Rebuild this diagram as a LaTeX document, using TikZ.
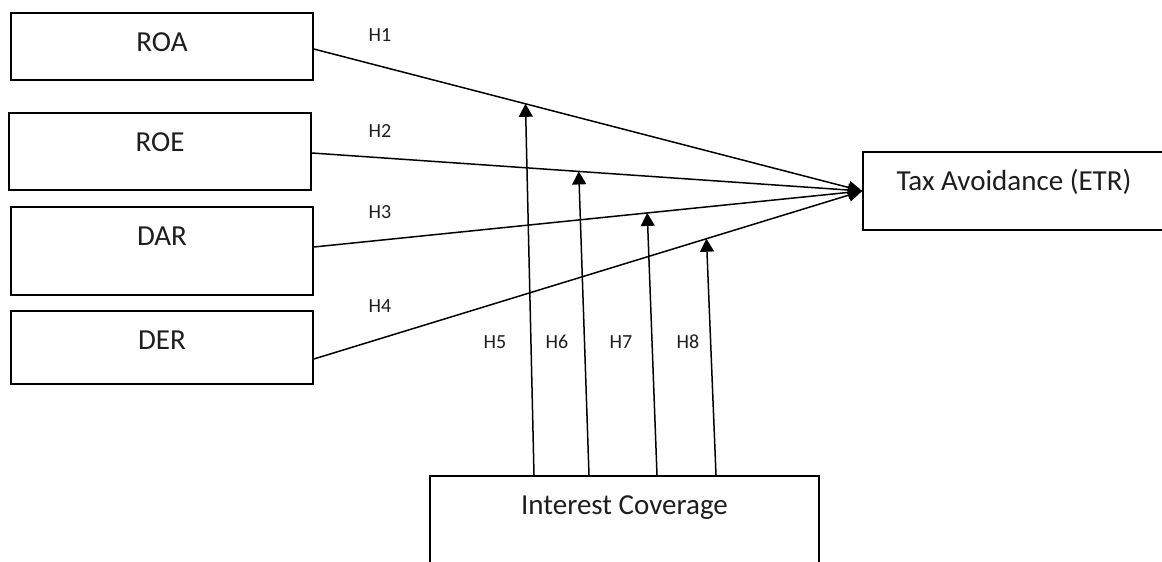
\documentclass[tikz,border=0pt]{standalone}
\usepackage{fontspec}
\setmainfont{Carlito}
\usetikzlibrary{arrows.meta,calc}
\definecolor{txt}{RGB}{30,30,30}
\tikzset{
  box/.style={draw=black, line width=1.6pt, rectangle, inner sep=0pt, minimum width=302pt},
  lab/.style={font=\fontsize{29}{34}\selectfont, text=txt, anchor=base, yshift=-39pt},
  hlab/.style={font=\fontsize{20}{24}\selectfont, text=txt, inner sep=0pt},
  conn/.style={line width=1.5pt, -{Triangle[length=14pt,width=13pt]}},
  vconn/.style={line width=1.5pt, -{Triangle[length=13pt,width=14pt]}},
}
\begin{document}
\begin{tikzpicture}[x=1pt,y=-1pt]
\clip (0,0) rectangle (1162,562);
\fill[white] (0,0) rectangle (1162,562);
% boxes
\node[box, minimum height=67pt, label={[lab]north:ROA}] (roa) at (162,46.5) {};
\node[box, minimum height=77pt, label={[lab]north:ROE}] (roe) at (160,151.5) {};
\node[box, minimum height=88pt, label={[lab]north:DAR}] (dar) at (162,251) {};
\node[box, minimum height=73pt, label={[lab]north:DER}] (der) at (162,347.5) {};
\node[box, minimum width=320pt, minimum height=78pt, label={[lab, xshift=-9pt]north:Tax Avoidance (ETR)}] (tax) at (1023,191) {};
\node[box, minimum width=389pt, minimum height=150pt, label={[lab]north:Interest Coverage}] (ic) at (624.5,551) {};
% start points
\coordinate (sroa) at ([yshift=-2.5pt]roa.east);
\coordinate (sroe) at ([yshift=-1.5pt]roe.east);
\coordinate (sdar) at ([yshift=4pt]dar.east);
\coordinate (sder) at ([yshift=-11.5pt]der.east);
\coordinate (tip) at (tax.west);
% main connectors
\draw[conn] (sroa) -- (tip);
\draw[conn] (sroe) -- (tip);
\draw[conn] (sdar) -- (tip);
\draw[conn] (sder) -- (tip);
% moderating connectors
\coordinate (m5) at ($(sroa)!0.386!(tip)$);
\coordinate (m6) at ($(sroe)!0.485!(tip)$);
\coordinate (m7) at ($(sdar)!0.608!(tip)$);
\coordinate (m8) at ($(sder)!0.716!(tip)$);
\draw[vconn] ([xshift=-90.5pt]ic.north) -- (m5);
\draw[vconn] ([xshift=-35.5pt]ic.north) -- (m6);
\draw[vconn] ([xshift=32.5pt]ic.north) -- (m7);
\draw[vconn] ([xshift=91.5pt]ic.north) -- (m8);
% hypothesis labels
\node[hlab] (h1) at (380,35) {H1};
\node[hlab] (h2) at (380,131) {H2};
\node[hlab] (h3) at (380,212) {H3};
\node[hlab] (h4) at (380,306) {H4};
\node[hlab] (h5) at (495,342) {H5};
\node[hlab] (h6) at (557,342) {H6};
\node[hlab] (h7) at (621,342) {H7};
\node[hlab] (h8) at (688,342) {H8};
\end{tikzpicture}
\end{document}
